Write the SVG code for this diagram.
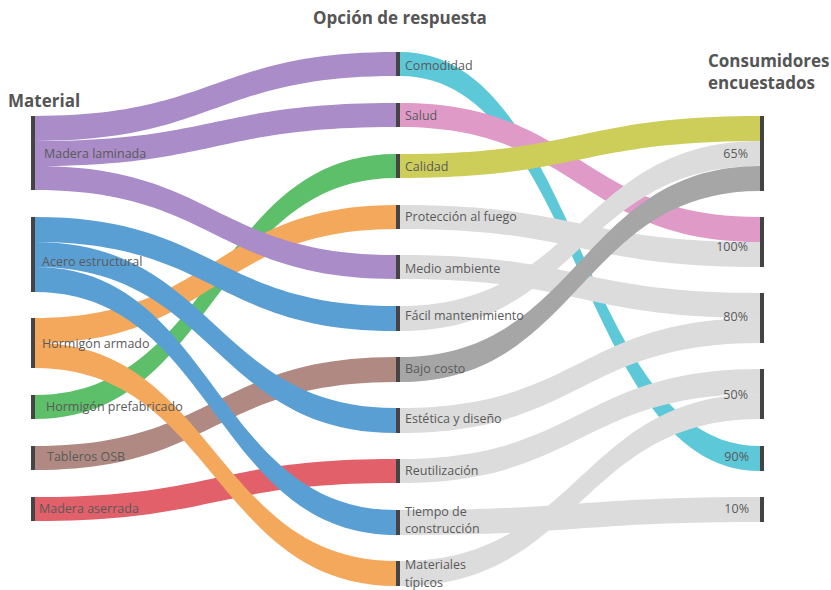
<svg xmlns="http://www.w3.org/2000/svg" width="831" height="590" viewBox="0 0 831 590">
  <style>
    .lbl { font-family: "Open Sans", "Liberation Sans", sans-serif; font-size: 12.5px; fill: #5a5a5a; }
    .ttl { font-family: "Open Sans", "Liberation Sans", sans-serif; font-size: 17px; font-weight: bold; fill: #555555; }
    .pct { text-anchor: end; }
    .bar { fill: #444444; }
    .purple { fill: #a98cc8; }
    .blue { fill: #5a9fd4; }
    .orange { fill: #f4a85c; }
    .green { fill: #5dbf6a; }
    .brown { fill: #b08a82; }
    .red { fill: #e2606a; }
    .cyan { fill: #5cc8d8; }
    .pink { fill: #e09ac8; }
    .yellow { fill: #cdcd5a; }
    .lgray { fill: #dcdcdc; }
    .dgray { fill: #a6a6a6; }
  </style>
  <rect width="831" height="590" fill="#ffffff"/>

  <!-- connectors: material -> option (x 35..396), option -> percentage (x 400..760) -->
  <g id="connectors">
    <!-- material to option -->
    <path class="red" d="M35,497 C215,497 215,459 396,459 L396,483 C215,483 215,521 35,521 Z"/>
    <path class="brown" d="M35,446 C215,446 215,357 396,357 L396,382 C215,382 215,470 35,470 Z"/>
    <path class="green" d="M35,395 C215,395 215,154 396,154 L396,178 C215,178 215,419 35,419 Z"/>
    <path class="orange" d="M35,318 C215,318 215,205 396,205 L396,229 C215,229 215,343 35,343 Z"/>
    <path class="orange" d="M35,343 C215,343 215,561 396,561 L396,586 C215,586 215,368 35,368 Z"/>
    <path class="blue" d="M35,217 C215,217 215,306 396,306 L396,331 C215,331 215,242 35,242 Z"/>
    <path class="blue" d="M35,242 C215,242 215,408 396,408 L396,433 C215,433 215,267 35,267 Z"/>
    <path class="blue" d="M35,267 C215,267 215,510 396,510 L396,535 C215,535 215,292 35,292 Z"/>
    <path class="purple" d="M35,116 C215,116 215,52 396,52 L396,76 C215,76 215,141 35,141 Z"/>
    <path class="purple" d="M35,141 C215,141 215,103 396,103 L396,127 C215,127 215,166 35,166 Z"/>
    <path class="purple" d="M35,166 C215,166 215,255 396,255 L396,279 C215,279 215,190 35,190 Z"/>

    <!-- option to percentage -->
    <path class="cyan" d="M400,52 C580,52 580,446 760,446 L760,471 C580,471 580,76 400,76 Z"/>
    <path class="pink" d="M400,103 C580,103 580,217 760,217 L760,242 C580,242 580,127 400,127 Z"/>
    <path class="lgray" d="M400,205 C580,205 580,242 760,242 L760,267 C580,267 580,229 400,229 Z"/>
    <path class="lgray" d="M400,255 C580,255 580,293 760,293 L760,318 C580,318 580,279 400,279 Z"/>
    <path class="lgray" d="M400,306 C580,306 580,141 760,141 L760,166 C580,166 580,331 400,331 Z"/>
    <path class="lgray" d="M400,408 C580,408 580,318 760,318 L760,343 C580,343 580,433 400,433 Z"/>
    <path class="lgray" d="M400,459 C580,459 580,369 760,369 L760,394 C580,394 580,483 400,483 Z"/>
    <path class="lgray" d="M400,510 C580,510 580,497 760,497 L760,522 C580,522 580,535 400,535 Z"/>
    <path class="lgray" d="M400,561 C580,561 580,394 760,394 L760,419 C580,419 580,586 400,586 Z"/>
    <path class="dgray" d="M400,357 C580,357 580,166 760,166 L760,191 C580,191 580,382 400,382 Z"/>
    <path class="yellow" d="M400,154 C580,154 580,116 760,116 L760,141 C580,141 580,178 400,178 Z"/>
  </g>

  <!-- column headings -->
  <text class="ttl" x="8" y="107">Material</text>
  <text class="ttl" x="313" y="24">Opción de respuesta</text>
  <text class="ttl" x="708" y="67">Consumidores</text>
  <text class="ttl" x="708" y="89">encuestados</text>

  <!-- material nodes -->
  <g id="madera-laminada"><rect class="bar" x="31" y="116" width="4" height="74"/><text class="lbl" x="44" y="157.5">Madera laminada</text></g>
  <g id="acero-estructural"><rect class="bar" x="31" y="217" width="4" height="75"/><text class="lbl" x="42" y="265.5">Acero estructural</text></g>
  <g id="hormigon-armado"><rect class="bar" x="31" y="318" width="4" height="50"/><text class="lbl" x="42" y="347.5">Hormigón armado</text></g>
  <g id="hormigon-prefabricado"><rect class="bar" x="31" y="395" width="4" height="24"/><text class="lbl" x="46" y="410.5">Hormigón prefabricado</text></g>
  <g id="tableros-osb"><rect class="bar" x="31" y="446" width="4" height="24"/><text class="lbl" x="47" y="460.5">Tableros OSB</text></g>
  <g id="madera-aserrada"><rect class="bar" x="31" y="497" width="4" height="24"/><text class="lbl" x="39" y="512.5">Madera aserrada</text></g>

  <!-- option nodes -->
  <g id="comodidad"><rect class="bar" x="396" y="52" width="4" height="24"/><text class="lbl" x="405" y="69.5">Comodidad</text></g>
  <g id="salud"><rect class="bar" x="396" y="103" width="4" height="24"/><text class="lbl" x="405" y="119.5">Salud</text></g>
  <g id="calidad"><rect class="bar" x="396" y="154" width="4" height="24"/><text class="lbl" x="405" y="170.5">Calidad</text></g>
  <g id="proteccion-fuego"><rect class="bar" x="396" y="205" width="4" height="24"/><text class="lbl" x="405" y="220.5">Protección al fuego</text></g>
  <g id="medio-ambiente"><rect class="bar" x="396" y="255" width="4" height="24"/><text class="lbl" x="405" y="272.5">Medio ambiente</text></g>
  <g id="facil-mantenimiento"><rect class="bar" x="396" y="306" width="4" height="25"/><text class="lbl" x="405" y="319.5">Fácil mantenimiento</text></g>
  <g id="bajo-costo"><rect class="bar" x="396" y="357" width="4" height="25"/><text class="lbl" x="405" y="372.5">Bajo costo</text></g>
  <g id="estetica-diseno"><rect class="bar" x="396" y="408" width="4" height="25"/><text class="lbl" x="405" y="422.5">Estética y diseño</text></g>
  <g id="reutilizacion"><rect class="bar" x="396" y="459" width="4" height="24"/><text class="lbl" x="405" y="474.5">Reutilización</text></g>
  <g id="tiempo-construccion"><rect class="bar" x="396" y="510" width="4" height="25"/><text class="lbl" x="405" y="515.5">Tiempo de</text><text class="lbl" x="405" y="532.5">construcción</text></g>
  <g id="materiales-tipicos"><rect class="bar" x="396" y="561" width="4" height="25"/><text class="lbl" x="405" y="568.5">Materiales</text><text class="lbl" x="405" y="586.5">típicos</text></g>

  <!-- percentage nodes -->
  <g id="p65"><rect class="bar" x="760" y="116" width="4" height="75"/><text class="lbl pct" x="748" y="157.5">65%</text></g>
  <g id="p100"><rect class="bar" x="760" y="217" width="4" height="50"/><text class="lbl pct" x="748" y="250.5">100%</text></g>
  <g id="p80"><rect class="bar" x="760" y="293" width="4" height="50"/><text class="lbl pct" x="748" y="320.5">80%</text></g>
  <g id="p50"><rect class="bar" x="760" y="369" width="4" height="50"/><text class="lbl pct" x="748" y="398.5">50%</text></g>
  <g id="p90"><rect class="bar" x="760" y="446" width="4" height="25"/><text class="lbl pct" x="749" y="460.5">90%</text></g>
  <g id="p10"><rect class="bar" x="760" y="497" width="4" height="25"/><text class="lbl pct" x="749" y="512.5">10%</text></g>
</svg>
